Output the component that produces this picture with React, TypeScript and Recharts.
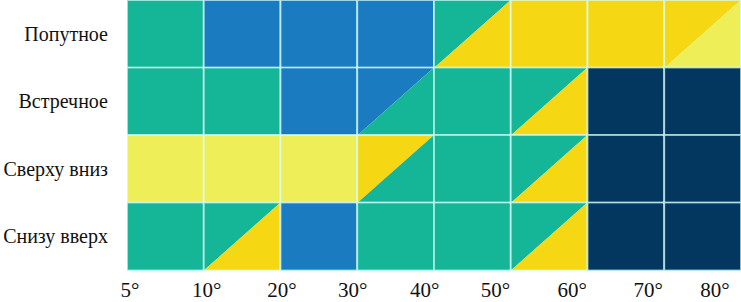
import { BarChart, Bar, XAxis, YAxis } from 'recharts';

// row labels, top to bottom
const rows = ['Попутное', 'Встречное', 'Сверху вниз', 'Снизу вверх'];

// cell codes per column; "A|B" = upper-left A, lower-right B
const poputnoe = ['T', 'B', 'B', 'B', 'T|Y', 'Y', 'Y', 'Y|L'];
const vstrechnoe = ['T', 'T', 'B', 'B|T', 'T', 'T|Y', 'N', 'N'];
const sverhu = ['L', 'L', 'L', 'Y|T', 'T', 'T|Y', 'N', 'N'];
const snizu = ['T', 'T|Y', 'B', 'T', 'T', 'T|Y', 'N', 'N'];

// x tick positions (in column units) and their labels
const tickPos = [0.04, 1.04, 2.02, 2.94, 3.88, 4.8, 5.8, 6.79, 7.66];
const tickLabels = ['5°', '10°', '20°', '30°', '40°', '50°', '60°', '70°', '80°'];

const colors: Record<string, string> = {
  T: '#15b598',
  B: '#1a7bc1',
  Y: '#f5d714',
  L: '#eeee58',
  N: '#03375f',
};

const cellRows = [poputnoe, vstrechnoe, sverhu, snizu];
const cols = poputnoe.map((_, i) => i);

const data = rows.map((name, r) => {
  const row: Record<string, any> = { name };
  cols.forEach((c) => {
    row[`v${c}`] = 1;
    row[`k${c}`] = cellRows[r][c];
  });
  return row;
});

function CellShape(props: any) {
  const { x, y, width, height, payload, col } = props;
  const code: string = payload[`k${col}`];
  const [a, b] = code.split('|');
  const line = 'rgba(215,255,250,0.75)';
  if (!b) {
    return (
      <g>
        <rect x={x} y={y} width={width} height={height} fill={colors[a]} />
        <rect x={x} y={y} width={width} height={height} fill="none" stroke={line} strokeWidth={1.8} />
      </g>
    );
  }
  return (
    <g>
      <polygon points={`${x},${y} ${x + width},${y} ${x},${y + height}`} fill={colors[a]} />
      <polygon points={`${x + width},${y} ${x + width},${y + height} ${x},${y + height}`} fill={colors[b]} />
      <rect x={x} y={y} width={width} height={height} fill="none" stroke={line} strokeWidth={1.8} />
    </g>
  );
}

function XTick(props: any) {
  const { x, y, payload } = props;
  const label = tickLabels[tickPos.indexOf(payload.value)];
  return (
    <text x={x} y={y + 27} textAnchor="middle" fill="#111" style={{ fontSize: 21, fontFamily: 'Liberation Serif' }}>
      {label}
    </text>
  );
}

function YTick(props: any) {
  const { x, y, payload } = props;
  return (
    <text x={x} y={y + 7} textAnchor="end" fill="#111" style={{ fontSize: 20, fontFamily: 'Liberation Serif' }}>
      {payload.value}
    </text>
  );
}

export default function App() {
  return (
    <div style={{ position: 'absolute', left: 0, top: 0, width: 741, height: 302, background: '#fff' }}>
      <BarChart
        width={741}
        height={302}
        data={data}
        layout="vertical"
        barCategoryGap={0}
        margin={{ top: 0, right: 0, left: 0, bottom: 0 }}
      >
        <XAxis
          type="number"
          domain={[0, 8]}
          ticks={tickPos}
          allowDataOverflow
          height={32}
          axisLine={false}
          tickLine={false}
          tickSize={0}
          tickMargin={0}
          tick={<XTick />}
          interval={0}
        />
        <YAxis
          type="category"
          dataKey="name"
          width={127}
          axisLine={false}
          tickLine={false}
          tickSize={0}
          tickMargin={19}
          tick={<YTick />}
        />
        {cols.map((c) => (
          <Bar
            key={c}
            dataKey={`v${c}`}
            stackId="a"
            isAnimationActive={false}
            shape={(p: any) => <CellShape {...p} col={c} />}
          />
        ))}
      </BarChart>
    </div>
  );
}
